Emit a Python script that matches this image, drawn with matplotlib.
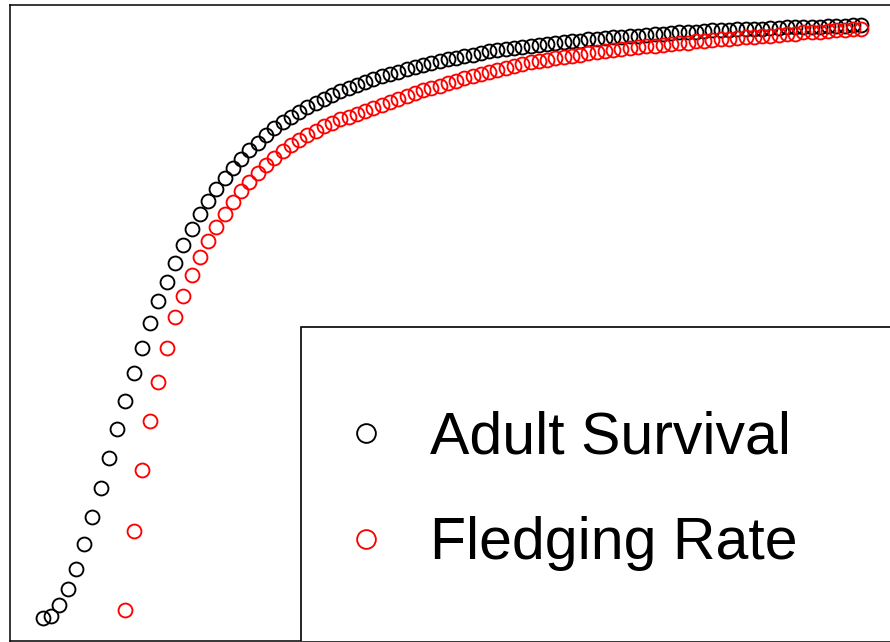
import numpy as np
import matplotlib.pyplot as plt
from matplotlib.patches import Rectangle

plt.rcParams['font.family'] = ['Liberation Sans', 'DejaVu Sans']

# parameter grid (100 steps)
steps = np.arange(1, 101)

# adult survival, one value per step
adult_survival = [
    0.036, 0.039, 0.056, 0.082, 0.113, 0.153, 0.195, 0.241, 0.288, 0.333,
    0.378, 0.421, 0.461, 0.500, 0.535, 0.564, 0.595, 0.623, 0.648, 0.671,
    0.692, 0.711, 0.728, 0.744, 0.758, 0.772, 0.783, 0.796, 0.807, 0.816,
    0.824, 0.832, 0.839, 0.846, 0.852, 0.858, 0.864, 0.869, 0.874, 0.879,
    0.884, 0.888, 0.892, 0.895, 0.899, 0.903, 0.906, 0.909, 0.912, 0.915,
    0.917, 0.920, 0.922, 0.925, 0.927, 0.929, 0.931, 0.932, 0.934, 0.936,
    0.937, 0.939, 0.940, 0.942, 0.943, 0.944, 0.946, 0.947, 0.948, 0.949,
    0.950, 0.951, 0.952, 0.953, 0.954, 0.955, 0.956, 0.957, 0.958, 0.958,
    0.959, 0.960, 0.960, 0.961, 0.962, 0.962, 0.963, 0.963, 0.964, 0.964,
    0.965, 0.965, 0.966, 0.966, 0.966, 0.967, 0.967, 0.967, 0.968, 0.968,
]

# fledging rate only defined from step 11 on
fledging_steps = steps[10:]
fledging_rate = [
    0.049, 0.173, 0.269, 0.346, 0.408, 0.461, 0.509, 0.542, 0.575, 0.604,
    0.629, 0.651, 0.672, 0.691, 0.708, 0.722, 0.736, 0.748, 0.760, 0.770,
    0.780, 0.788, 0.796, 0.802, 0.809, 0.814, 0.820, 0.824, 0.829, 0.833,
    0.838, 0.843, 0.848, 0.852, 0.857, 0.862, 0.866, 0.869, 0.873, 0.877,
    0.881, 0.885, 0.888, 0.891, 0.895, 0.898, 0.901, 0.904, 0.907, 0.910,
    0.912, 0.914, 0.917, 0.918, 0.920, 0.922, 0.924, 0.926, 0.928, 0.929,
    0.931, 0.932, 0.934, 0.936, 0.936, 0.937, 0.939, 0.940, 0.941, 0.943,
    0.944, 0.945, 0.946, 0.947, 0.948, 0.949, 0.950, 0.951, 0.952, 0.953,
    0.954, 0.955, 0.957, 0.958, 0.958, 0.959, 0.960, 0.961, 0.962, 0.963,
]

labels = ['Adult Survival', 'Fledging Rate']

fig = plt.figure(figsize=(8.9, 6.42), dpi=100)
ax = fig.add_axes([10 / 890, 1 / 642, 884 / 890, 636 / 642])

ax.plot(steps, adult_survival, 'o', ms=10, mfc='none', mec='black',
        mew=1.35, label=labels[0])
ax.plot(fledging_steps, fledging_rate, 'o', ms=10, mfc='none', mec='red',
        mew=1.35, label=labels[1])

pad = 0.04 * (steps[-1] - steps[0])
ax.set_xlim(steps[0] - pad, steps[-1] + pad)
ax.set_ylim(0, 1)
ax.set_xticks([])
ax.set_yticks([])
for s in ax.spines.values():
    s.set_linewidth(1.1)

# legend box
ax.add_patch(Rectangle((291 / 884, -0.05), 0.8, (641 - 327) / 636 + 0.05,
                       transform=ax.transAxes, facecolor='white',
                       edgecolor='black', lw=1.2, zorder=3))
ax.legend(loc='upper left', bbox_to_anchor=(336 / 890, 1 - 411 / 642),
          bbox_transform=fig.transFigure, frameon=False, fontsize=42.5,
          borderpad=0, borderaxespad=0, handlelength=1.0,
          handletextpad=0.6, labelspacing=0.85, markerscale=1.35)

fig.savefig('out.png', dpi=100)
